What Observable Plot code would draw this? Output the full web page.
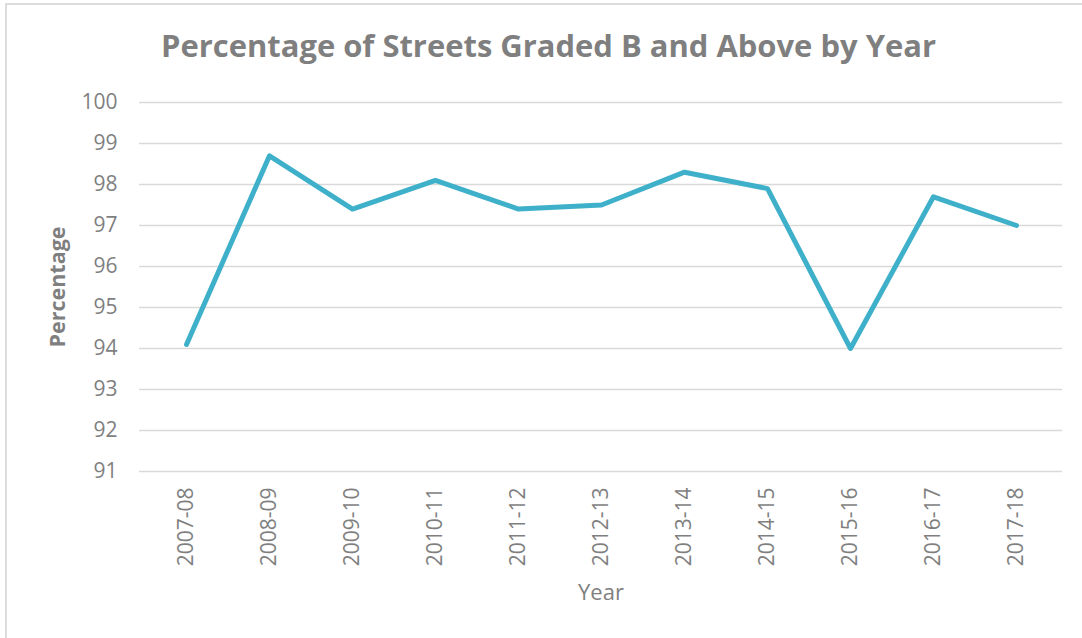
<!DOCTYPE html>
<html><head><meta charset="utf-8">
<script src="https://cdn.jsdelivr.net/npm/d3@7"></script>
<script src="https://cdn.jsdelivr.net/npm/@observablehq/plot@0.6"></script>
<style>
body{margin:0;background:#fff;}
#wrap{position:relative;width:1082px;height:638px;overflow:hidden;background:#fff;}
#border{position:absolute;left:5px;top:3px;width:1100px;height:660px;border:2px solid #dcdcdc;box-sizing:border-box;}
#chart{position:absolute;left:0;top:0;}
</style></head><body><div id="wrap"><div id="border"></div><div id="chart"></div></div>
<script>
const years = ["2007-08","2008-09","2009-10","2010-11","2011-12","2012-13","2013-14","2014-15","2015-16","2016-17","2017-18"];
const values = [94.1, 98.7, 97.4, 98.1, 97.4, 97.5, 98.3, 97.9, 94.0, 97.7, 97.0];
const yTicks = [91, 92, 93, 94, 95, 96, 97, 98, 99, 100];
const titleText = "Percentage of Streets Graded B and Above by Year";
const yLabel = "Percentage";
const xLabel = "Year";

const data = years.map((y, i) => ({year: y, value: values[i]}));
const gray = "#7f7f7f";

const chart = Plot.plot({
  width: 1082,
  height: 638,
  marginLeft: 139,
  marginRight: 20,
  marginTop: 102,
  marginBottom: 167,
  style: {fontFamily: "'Open Sans', sans-serif", background: "transparent", overflow: "visible"},
  x: {type: "point", domain: years, padding: 0.5},
  y: {domain: [91, 100]},
  marks: [
    Plot.ruleY(yTicks, {stroke: "#d9d9d9", strokeWidth: 1.5}),
    Plot.axisY({ticks: yTicks, tickSize: 0, tickPadding: 22, label: null, fontSize: 21, fill: gray}),
    Plot.axisX({tickRotate: -90, tickSize: 0, tickPadding: 16, label: null, fontSize: 21, fill: gray}),
    Plot.line(data, {x: "year", y: "value", stroke: "#3FB0C9", strokeWidth: 5, strokeLinejoin: "round", strokeLinecap: "round"}),
    Plot.text([yLabel], {frameAnchor: "left", textAnchor: "middle", lineAnchor: "middle", dx: -81, rotate: -90, fontSize: 21.5, fontWeight: "bold", fill: gray}),
    Plot.text([xLabel], {frameAnchor: "bottom", lineAnchor: "middle", dy: 121, fontSize: 22, fill: gray}),
    Plot.text([titleText], {frameAnchor: "top", lineAnchor: "middle", dx: -52.5, dy: -55, fontSize: 30, fontWeight: "bold", fill: gray, className: "ttl"})
  ]
});
document.getElementById("chart").appendChild(chart);
d3.select(chart).selectAll(".ttl text").attr("textLength", 775).attr("lengthAdjust", "spacingAndGlyphs");
</script>
</body></html>
